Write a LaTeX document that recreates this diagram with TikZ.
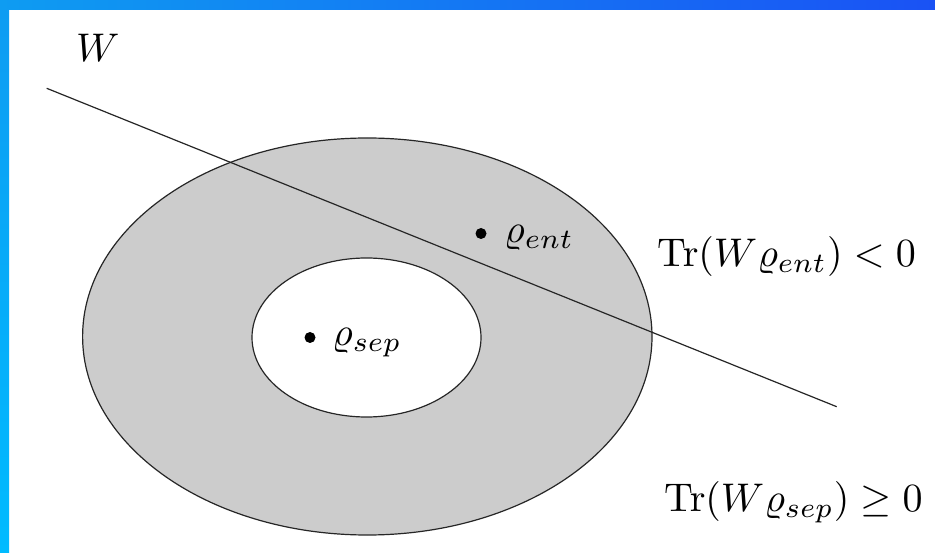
\documentclass[tikz,border=0pt]{standalone}
\usepackage{graphicx}
\usetikzlibrary{shapes.geometric}
\definecolor{bandA}{HTML}{0E9CF2}
\definecolor{bandB}{HTML}{1A52F4}
\definecolor{bandC}{HTML}{00BBFF}
\definecolor{ringgray}{HTML}{CCCCCC}
\newcommand{\diagmath}[1]{\scalebox{4.0}{$#1$}}
\tikzset{
  lbl/.style={anchor=base west, inner sep=0pt},
  dotmark/.style={circle, fill=black, inner sep=0pt, minimum size=11pt},
  edge/.style={line width=1.2pt, draw=black!85},
}
\begin{document}
\begin{tikzpicture}[x=1pt,y=-1pt]
\useasboundingbox (0,0) rectangle (935,553);
\fill[white] (0,0) rectangle (935,553);
% frame bands
\shade[left color=bandA, right color=bandB] (0,0) rectangle (935,10);
\shade[top color=bandA, bottom color=bandC] (0,10) rectangle (9,553);
% regions
\draw[edge, fill=ringgray] (367.3,336.5) ellipse [x radius=284.7, y radius=198.5];
\draw[edge, fill=white] (366.5,337.5) ellipse [x radius=114.5, y radius=79.5];
% witness line
\coordinate (wstart) at (46.7,88.3);
\coordinate (wend) at (836.7,406.7);
\draw[edge] (wstart) -- (wend);
% dots
\node[dotmark] (dent) at (481,233.5) {};
\node[dotmark] (dsep) at (310,337.5) {};
\node[lbl] (lent) at (504,243) {\diagmath{\varrho_{ent}}};
\node[lbl] (lsep) at (332,346) {\diagmath{\varrho_{sep}}};
% labels
\node[lbl] (lw) at (76,62) {\diagmath{W}};
\node[lbl] (ltr1) at (657,266.5) {\diagmath{\mathrm{Tr}(W\varrho_{ent})<0}};
\node[lbl] (ltr2) at (664,511.5) {\diagmath{\mathrm{Tr}(W\varrho_{sep})\geq0}};
\end{tikzpicture}
\end{document}
